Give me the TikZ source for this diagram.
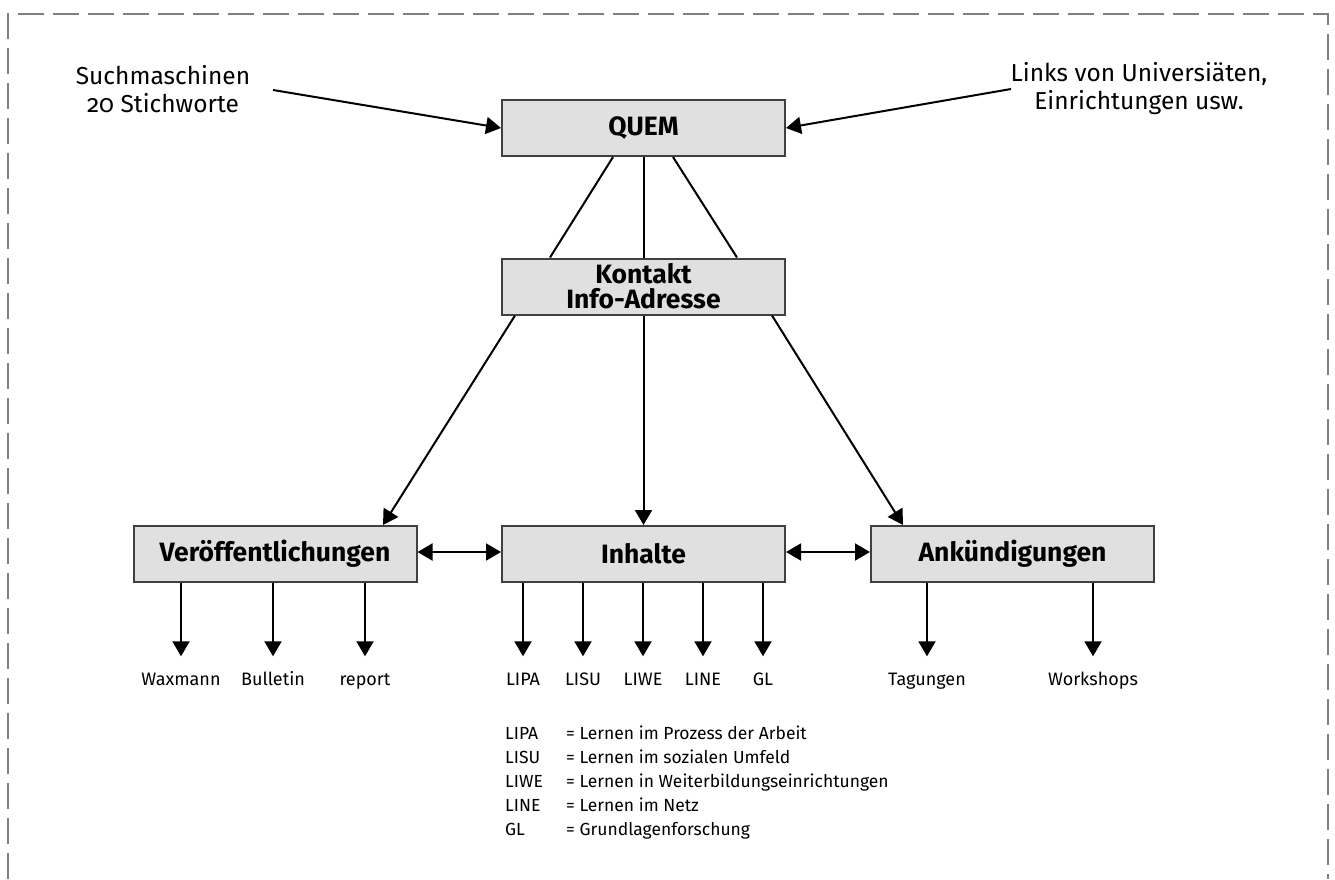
\documentclass[tikz,border=0pt]{standalone}
\usepackage{fontspec}
\setmainfont{Fira Sans}[Numbers=OldStyle]
\usetikzlibrary{arrows.meta}
\definecolor{boxgray}{RGB}{224,224,224}
\definecolor{framegray}{RGB}{128,128,128}
\tikzset{
  box/.style={draw=black!75, line width=2pt, fill=boxgray, minimum width=283pt, minimum height=56pt, inner sep=0pt, font=\fontsize{26.5}{25}\selectfont\bfseries, align=center},
  lbl/.style={inner sep=0pt, font=\fontsize{24.5}{28}\selectfont, align=center},
  small/.style={inner sep=0pt, text height=13pt, text depth=4pt, font=\fontsize{18}{22}\selectfont},
  leg/.style={inner sep=0pt, text height=13pt, text depth=4pt, font=\fontsize{17.5}{22}\selectfont, anchor=west},
  conn/.style={line width=2pt},
  arr/.style={line width=2pt, -{Triangle[length=15pt,width=17pt]}},
  darr/.style={line width=2pt, {Triangle[length=15pt,width=17pt]}-{Triangle[length=15pt,width=17pt]}},
}
\begin{document}
\begin{tikzpicture}[x=1pt,y=-1pt]
\useasboundingbox (0,0) rectangle (1335,879);
% frame
\draw[framegray, line width=2.7pt, dash pattern=on 26pt off 9pt] (8,879) -- (8,14) -- (1328,14) -- (1328,879);

% boxes
\node[box] (quem) at (643.5,128) {QUEM};
\node[box] (kon) at (643.5,286.5) {Kontakt\\Info-Adresse};
\node[box] (ver) at (275,554) {Veröffentlichungen};
\node[box] (inh) at (643.5,554) {Inhalte};
\node[box] (ank) at (1012.5,554) {Ankündigungen};

% top labels
\node[lbl] (such) at (163,89) {Suchmaschinen\\20 Stichworte};
\node[lbl] (links) at (1139,89) {Links von Universiäten,\\Einrichtungen usw.};
\coordinate (suchend) at (273,90);
\coordinate (linksend) at (1011,89);
\draw[arr] (suchend) -- (quem.west);
\draw[arr] (linksend) -- (quem.east);

% QUEM - Kontakt
\draw[conn] ([xshift=-30.5pt]quem.south) -- ([xshift=-93.5pt]kon.north);
\draw[conn] (quem.south) -- (kon.north);
\draw[conn] ([xshift=29.5pt]quem.south) -- ([xshift=93.5pt]kon.north);

% Kontakt - bottom
\draw[arr] ([xshift=-128.5pt]kon.south) -- ([xshift=108pt]ver.north);
\draw[arr] (kon.south) -- (inh.north);
\draw[arr] ([xshift=128.5pt]kon.south) -- ([xshift=-109.5pt]ank.north);

% horizontal double arrows
\draw[darr] ([yshift=2pt]ver.east) -- ([yshift=2pt]inh.west);
\draw[darr] ([yshift=2pt]inh.east) -- ([yshift=2pt]ank.west);

% leaves
\node[small] (wax) at (181,681) {Waxmann};
\node[small] (bul) at (273,681) {Bulletin};
\node[small] (rep) at (365,681) {report};
\node[small] (lipa) at (523,681) {LIPA};
\node[small] (lisu) at (583,681) {LISU};
\node[small] (liwe) at (643,681) {LIWE};
\node[small] (line) at (703,681) {LINE};
\node[small] (gl) at (763,681) {GL};
\node[small] (tag) at (927,681) {Tagungen};
\node[small] (work) at (1093,681) {Workshops};

\foreach \n/\p in {wax/ver,bul/ver,rep/ver,lipa/inh,lisu/inh,liwe/inh,line/inh,gl/inh,tag/ank,work/ank}{
  \draw[arr] (\n.north |- \p.south) -- ([yshift=16pt]\n.north);
}

% legend
\node[leg] (k1) at (505,735) {LIPA};
\node[leg] (k2) at (505,759) {LISU};
\node[leg] (k3) at (505,783) {LIWE};
\node[leg] (k4) at (505,807) {LINE};
\node[leg] (k5) at (505,831) {GL};
\node[leg] (d1) at (566,735) {= Lernen im Prozess der Arbeit};
\node[leg] (d2) at (566,759) {= Lernen im sozialen Umfeld};
\node[leg] (d3) at (566,783) {= Lernen in Weiterbildungseinrichtungen};
\node[leg] (d4) at (566,807) {= Lernen im Netz};
\node[leg] (d5) at (566,831) {= Grundlagenforschung};
\end{tikzpicture}
\end{document}
